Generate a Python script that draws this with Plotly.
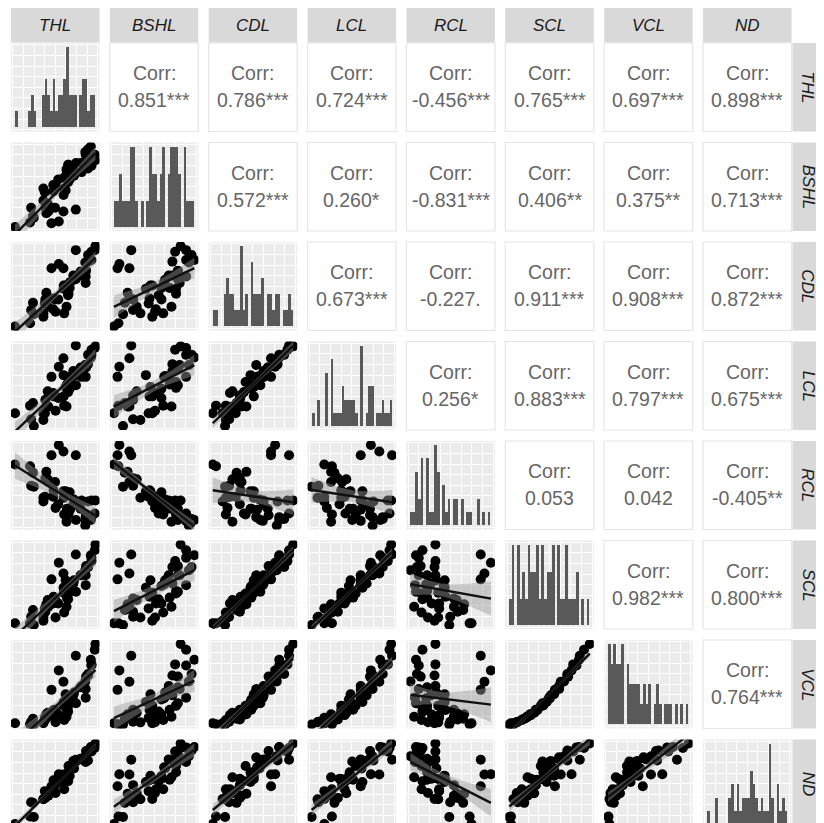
import numpy as np
import plotly.graph_objects as go

VARS = ["THL", "BSHL", "CDL", "LCL", "RCL", "SCL", "VCL", "ND"]

THL = [13.3, 32.3, 42.0, 28.5, 29.6, 54.3, 42.0, 31.5, 63.0, 43.5, 44.0, 65.4, 52.0, 47.0, 57.0, 46.4,
       45.0, 67.0, 52.3, 65.8, 53.8, 67.1, 62.6, 67.4, 62.4, 75.0, 68.6, 69.0, 84.8, 64.5, 72.3, 73.0,
       84.8, 50.2, 79.6, 80.7, 84.4, 62.3, 85.2, 87.1, 87.2, 57.6, 90.6, 90.7, 90.0, 74.8, 94.0, 94.7]
BSHL = [12, 22, 54, 17, 33, 57, 41, 24, 66, 50, 33, 75, 58, 29, 64, 37,
        27, 61, 51, 73, 33, 80, 54, 80, 47, 82, 64, 67, 91, 52, 76, 68,
        84, 16, 82, 72, 94, 29, 82, 76, 97, 18, 91, 79, 100, 31, 91, 85]
CDL = [0, 15, 12, 4, 20, 18, 16, 29, 16, 28, 33, 24, 21, 35, 33, 24,
       41, 38, 34, 47, 33, 46, 50, 40, 46, 58, 47, 54, 61, 50, 62, 57,
       53, 71, 67, 62, 78, 71, 68, 79, 87, 76, 81, 91, 81, 93, 93, 98]
LCL = [15, 0, 15, 24, 8, 18, 7, 27, 24, 15, 31, 23, 39, 23, 33, 41,
       23, 40, 35, 49, 36, 45, 35, 52, 60, 48, 44, 58, 58, 46, 65, 59,
       72, 58, 69, 58, 72, 80, 69, 73, 84, 70, 84, 90, 81, 95, 92, 94]
RCL = [76, 52, 36, 74, 53, 29, 40, 67, 22, 41, 61, 14, 41, 57, 33, 60,
       68, 23, 48, 28, 57, 28, 40, 22, 47, 16, 46, 27, 15, 47, 32, 38,
       19, 86, 28, 37, 10, 90, 21, 36, 17, 97, 19, 37, 16, 86, 23, 37]
SCL = [8, 6, 11, 8, 16, 15, 15, 24, 21, 26, 22, 28, 32, 28, 32, 36,
       31, 37, 40, 39, 38, 47, 45, 44, 51, 46, 53, 55, 54, 60, 56, 60,
       66, 61, 66, 66, 72, 68, 77, 76, 76, 81, 87, 83, 90, 91, 96, 103]
VCL = [2.0, 0.5, 2.1, 0.8, 3.9, 3.3, 3.1, 7.5, 6.1, 8.7, 6.8, 10.0, 12.1, 10.5, 12.9, 15.1,
       13.1, 16.4, 18.5, 18.7, 18.6, 23.9, 23.8, 23.7, 28.2, 26.7, 31.3, 32.9, 33.6, 37.9, 36.5, 39.9,
       44.3, 43.3, 46.6, 48.1, 53.6, 53.4, 59.7, 61.0, 62.9, 67.4, 73.5, 74.8, 80.5, 85.6, 92.9, 100.0]
ND = [22.3, 28.8, 45.6, 29.3, 42.5, 51.2, 45.4, 42.0, 54.7, 52.9, 46.6, 65.9, 54.7, 48.6, 64.4, 51.0,
      50.5, 62.1, 63.1, 63.6, 58.5, 70.5, 64.2, 76.3, 61.4, 80.5, 67.0, 75.1, 80.0, 67.3, 80.9, 74.1,
      84.4, 57.4, 83.0, 82.5, 85.5, 68.5, 90.4, 81.5, 90.8, 68.6, 93.7, 89.8, 94.1, 82.2, 93.1, 97.3]

# correlation labels, upper triangle in row-major order
CORR_LABELS = [
    "0.851***", "0.786***", "0.724***", "-0.456***", "0.765***", "0.697***", "0.898***",
    "0.572***", "0.260*", "-0.831***", "0.406**", "0.375**", "0.713***",
    "0.673***", "-0.227.", "0.911***", "0.908***", "0.872***",
    "0.256*", "0.883***", "0.797***", "0.675***",
    "0.053", "0.042", "-0.405**",
    "0.982***", "0.800***",
    "0.764***",
]

DATA = [THL, BSHL, CDL, LCL, RCL, SCL, VCL, ND]
DATA = [np.array(d, dtype=float) for d in DATA]

# figure sits at page offset (8, 8) because of the default body margin
W, H = 816, 820
PW, PH = 88.5, 88.5
COL_L = [3 + 98.86 * c for c in range(8)]
ROW_T = [35 + 99.5 * r for r in range(8)]

FONT = "Liberation Sans, Arial, Helvetica, sans-serif"
PANEL_BG = "#ebebeb"
STRIP_BG = "#d9d9d9"


def gridvals(a, b):
    span = b - a
    major = [a + span * f for f in (0.14, 0.38, 0.62, 0.86)]
    minor = [a + span * f for f in (0.02, 0.26, 0.50, 0.74, 0.98)]
    return major, minor


def axis(rng, domain, anchor):
    major, minor = gridvals(rng[0], rng[1])
    return dict(domain=domain, anchor=anchor, range=rng, showticklabels=False, ticks="",
                zeroline=False, showline=False, showgrid=True, gridcolor="white", gridwidth=1.2,
                tickmode="array", tickvals=major,
                minor=dict(tickmode="array", tickvals=minor, showgrid=True, gridcolor="white",
                           gridwidth=0.6, ticks=""),
                fixedrange=True)


def expand(lo, hi, f=0.05):
    s = hi - lo
    return [lo - f * s, hi + f * s]


fig = go.Figure()
layout = {}
shapes = []
annotations = []

k = 0
ci = 0
for r in range(8):
    for c in range(8):
        x0, x1 = COL_L[c], COL_L[c] + PW
        y0, y1 = ROW_T[r], min(ROW_T[r] + PH, H)
        if c > r:
            shapes.append(dict(type="rect", xref="paper", yref="paper",
                               x0=x0 / W, x1=x1 / W, y0=1 - y1 / H, y1=1 - y0 / H,
                               fillcolor="white", line=dict(color="#e6e6e6", width=1.2), layer="below"))
            cx = (x0 + x1) / 2 / W
            cy = (y0 + y1) / 2
            annotations.append(dict(xref="paper", yref="paper", x=cx, y=1 - (cy - 14) / H,
                                    text="Corr:", showarrow=False, xanchor="center", yanchor="middle",
                                    font=dict(family=FONT, size=19.5, color="#666666")))
            annotations.append(dict(xref="paper", yref="paper", x=cx, y=1 - (cy + 13) / H,
                                    text=CORR_LABELS[ci], showarrow=False, xanchor="center", yanchor="middle",
                                    font=dict(family=FONT, size=19.5, color="#666666")))
            ci += 1
            continue
        k += 1
        suf = "" if k == 1 else str(k)
        xa, ya = "x" + suf, "y" + suf
        xd = [x0 / W, x1 / W]
        yd = [max(0.0, 1 - y1 / H), 1 - y0 / H]
        if r == c:
            arr = DATA[c]
            lo, hi = arr.min(), arr.max()
            bw = (hi - lo) / 29
            start, end = lo - bw / 2, hi + bw / 2
            counts, _ = np.histogram(arr, bins=np.linspace(start, end, 31))
            fig.add_trace(go.Histogram(x=arr, xbins=dict(start=start, end=end + 1e-9, size=bw),
                                       marker=dict(color="#595959", line=dict(width=0)),
                                       xaxis=xa, yaxis=ya, showlegend=False, hoverinfo="skip"))
            layout["xaxis" + suf] = axis(expand(start, end), xd, ya)
            layout["yaxis" + suf] = axis(expand(0, counts.max()), yd, xa)
        else:
            xv, yv = DATA[c], DATA[r]
            fig.add_trace(go.Scatter(x=xv, y=yv, mode="markers",
                                     marker=dict(color="black", size=10, line=dict(width=0)),
                                     xaxis=xa, yaxis=ya, showlegend=False, hoverinfo="skip"))
            n = len(xv)
            b1, b0 = np.polyfit(xv, yv, 1)
            resid = yv - (b0 + b1 * xv)
            s = np.sqrt(np.sum(resid ** 2) / (n - 2))
            xbar = xv.mean()
            sxx = np.sum((xv - xbar) ** 2)
            xs = np.linspace(xv.min(), xv.max(), 80)
            ys = b0 + b1 * xs
            se = s * np.sqrt(1 / n + (xs - xbar) ** 2 / sxx)
            tq = 2.013
            fig.add_trace(go.Scatter(x=np.concatenate([xs, xs[::-1]]),
                                     y=np.concatenate([ys + tq * se, (ys - tq * se)[::-1]]),
                                     mode="lines", fill="toself", fillcolor="rgba(153,153,153,0.45)",
                                     line=dict(width=0), xaxis=xa, yaxis=ya, showlegend=False,
                                     hoverinfo="skip"))
            fig.add_trace(go.Scatter(x=xs, y=ys, mode="lines", line=dict(color="#111111", width=2.4),
                                     xaxis=xa, yaxis=ya, showlegend=False, hoverinfo="skip"))
            layout["xaxis" + suf] = axis(expand(xv.min(), xv.max()), xd, ya)
            layout["yaxis" + suf] = axis(expand(yv.min(), yv.max()), yd, xa)

# strips
for c in range(8):
    x0, x1 = COL_L[c], COL_L[c] + PW
    shapes.append(dict(type="rect", xref="paper", yref="paper", x0=x0 / W, x1=x1 / W,
                       y0=1 - 34.5 / H, y1=1 - 0 / H, fillcolor=STRIP_BG, line=dict(width=0), layer="below"))
    annotations.append(dict(xref="paper", yref="paper", x=(x0 + x1) / 2 / W, y=1 - 17.5 / H,
                            text="<i>" + VARS[c] + "</i>", showarrow=False, xanchor="center", yanchor="middle",
                            font=dict(family=FONT, size=17, color="#1a1a1a")))
for r in range(8):
    y0, y1 = ROW_T[r], min(ROW_T[r] + PH, H)
    shapes.append(dict(type="rect", xref="paper", yref="paper", x0=784.5 / W, x1=1.0,
                       y0=1 - y1 / H, y1=1 - y0 / H, fillcolor=STRIP_BG, line=dict(width=0), layer="below"))
    annotations.append(dict(xref="paper", yref="paper", x=800 / W, y=1 - (ROW_T[r] + PH / 2) / H,
                            text="<i>" + VARS[r] + "</i>", showarrow=False, xanchor="center", yanchor="middle",
                            textangle=90, font=dict(family=FONT, size=17, color="#1a1a1a")))

fig.update_layout(width=W, height=H, margin=dict(l=0, r=0, t=0, b=0),
                  paper_bgcolor="white", plot_bgcolor=PANEL_BG, shapes=shapes, annotations=annotations,
                  bargap=0, showlegend=False, font=dict(family=FONT), **layout)
fig.write_html("out.html", config=dict(displayModeBar=False))
